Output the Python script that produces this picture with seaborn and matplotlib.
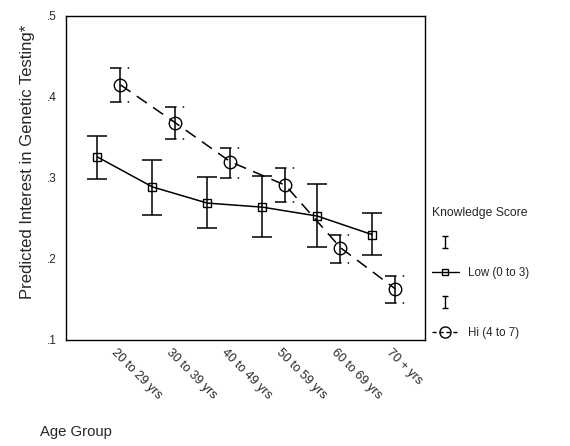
import numpy as np
import pandas as pd
import matplotlib
matplotlib.use("Agg")
import matplotlib.pyplot as plt
import seaborn as sns
from matplotlib.lines import Line2D
from matplotlib.path import Path

# Dữ liệu
age_groups = ["20 to 29 yrs", "30 to 39 yrs", "40 to 49 yrs",
              "50 to 59 yrs", "60 to 69 yrs", "70 + yrs"]

low_mean = [0.326, 0.289, 0.269, 0.264, 0.253, 0.230]
low_upper = [0.352, 0.322, 0.301, 0.302, 0.293, 0.257]
low_lower = [0.299, 0.254, 0.238, 0.227, 0.215, 0.205]

hi_mean = [0.415, 0.368, 0.320, 0.291, 0.214, 0.163]
hi_upper = [0.436, 0.388, 0.337, 0.312, 0.230, 0.179]
hi_lower = [0.394, 0.348, 0.300, 0.270, 0.195, 0.146]

y_ticks = [0.1, 0.2, 0.3, 0.4, 0.5]

sns.set_style("white")
plt.rcParams['font.family'] = ['Liberation Sans', 'DejaVu Sans']

dodge = 0.21
idx = np.arange(len(age_groups))
low_df = pd.DataFrame({"x": idx - dodge, "y": low_mean})
hi_df = pd.DataFrame({"x": idx + dodge, "y": hi_mean})

fig = plt.figure(figsize=(5.7, 4.46), dpi=100)
ax = fig.add_axes([0.1158, 0.2377, 0.630, 0.7265])

# Đường nhóm Low
sns.lineplot(data=low_df, x="x", y="y", ax=ax, color="black", lw=1.1,
             marker="s", markersize=5.5, markerfacecolor="none",
             markeredgecolor="black", markeredgewidth=1.0, legend=False)
low_err = [np.array(low_mean) - np.array(low_lower), np.array(low_upper) - np.array(low_mean)]
ax.errorbar(low_df["x"], low_mean, yerr=low_err, fmt="none", ecolor="black",
            elinewidth=1.1, capsize=7.5, capthick=1.1)

# Đường nhóm Hi
sns.lineplot(data=hi_df, x="x", y="y", ax=ax, color="black", lw=1.1,
             linestyle=(0, (8, 5)), marker="o", markersize=9,
             markerfacecolor="none", markeredgecolor="black",
             markeredgewidth=1.0, legend=False)
hi_err = [np.array(hi_mean) - np.array(hi_lower), np.array(hi_upper) - np.array(hi_mean)]
ax.errorbar(hi_df["x"], hi_mean, yerr=hi_err, fmt="none", ecolor="black",
            elinewidth=1.1, capsize=0)
cap = 0.19
for ends in (hi_upper, hi_lower):
    ax.hlines(ends, hi_df["x"] - cap, hi_df["x"], color="black", lw=1.1)
    ax.hlines(ends, hi_df["x"], hi_df["x"] + cap, color="black", lw=1.1,
              linestyle=(0, (1, 4)))

ax.set_xlim(-0.78, 5.75)
ax.set_ylim(0.1, 0.5)
ax.set_xticks(idx)
ax.set_xticklabels(age_groups, rotation=-45, ha="left", va="top", fontsize=9)
ax.set_yticks(y_ticks)
ax.set_yticklabels([f"{v:.1f}".lstrip("0") for v in y_ticks], fontsize=8.5)
ax.tick_params(axis="both", direction="out", length=3, width=1.5, color="black")
ax.tick_params(axis="x", pad=2)
for s in ax.spines.values():
    s.set_color("black")
    s.set_linewidth(1.0)
ax.set_xlabel("")
ax.set_ylabel("Predicted Interest in Genetic Testing*", fontsize=12)
ax.yaxis.set_label_coords(-0.086, 0.55)
fig.text(40 / 570, 1 - 432 / 446, "Age Group", fontsize=10.7, ha="left", va="center")

# Chú thích
ibar = Path([(-0.5, 1), (0.5, 1), (0, 1), (0, -1), (-0.5, -1), (0.5, -1)],
            [Path.MOVETO, Path.LINETO, Path.MOVETO, Path.LINETO, Path.MOVETO, Path.LINETO])
handles = [
    Line2D([], [], ls="none", marker=ibar, markersize=9, markeredgecolor="black",
           markerfacecolor="none", markeredgewidth=1.0),
    Line2D([], [], color="black", lw=1.0, marker="s", markersize=5,
           markerfacecolor="none", markeredgecolor="black"),
    Line2D([], [], ls="none", marker=ibar, markersize=9, markeredgecolor="black",
           markerfacecolor="none", markeredgewidth=1.0),
    Line2D([], [], color="black", lw=1.0, ls=(0, (3, 2)), marker="o", markersize=8,
           markerfacecolor="none", markeredgecolor="black"),
]
labels = ["", "Low (0 to 3)", "", "Hi (4 to 7)"]
fig.legend(handles, labels, title="Knowledge Score", loc="upper left",
           bbox_to_anchor=(0.758, 0.535), frameon=False, fontsize=8.3,
           title_fontsize=8.7, handlelength=2.3, handletextpad=0.8,
           labelspacing=1.55, borderpad=0, borderaxespad=0, alignment="left")

fig.savefig("out.png", dpi=100)
